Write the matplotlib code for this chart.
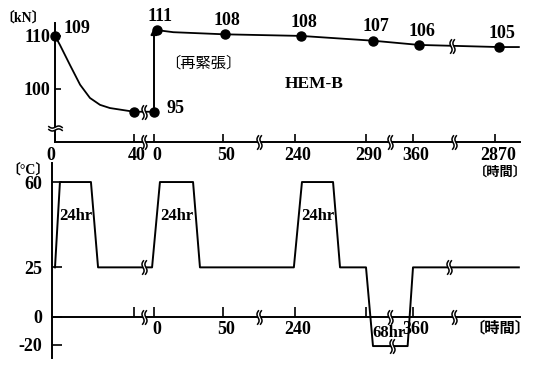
import numpy as np
import matplotlib.pyplot as plt
from matplotlib.path import Path
from matplotlib.markers import MarkerStyle
from matplotlib.transforms import Affine2D, ScaledTranslation

plt.rcParams['font.family'] = ['Liberation Serif', 'Noto Sans CJK JP']
plt.rcParams['font.weight'] = 'bold'

# time axis (hours) - two phases: initial tension, then re-tension
p1_ticks = [0, 40]
p2_ticks = [0, 50, 240, 290, 360, 2870]
# where those ticks sit along the broken axis
p1_pos = [55, 134]
p2_pos = [154, 223, 295, 366, 413, 495]

# load (kN)
load_t1 = [0, 2.5, 7.6, 12.7, 17.7, 22.8, 27.8, 40]
load_v1 = [110, 108.3, 104.5, 100.8, 98.3, 97.0, 96.4, 95.7]
load_t2 = [2, 14, 54, 244, 300, 545, 2990, 3600]
load_v2 = [111.1, 110.7, 110.3, 110.0, 109.1, 108.3, 107.9, 107.9]
retension_t = 0
retension_from = 95.7
retension_to = 111.5

dot_t1 = [0, 40]
dot_v1 = [110, 95.7]
dot_t2 = [0, 2, 54, 244, 300, 545, 2990]
dot_v2 = [95.7, 111.1, 110.3, 110.0, 109.1, 108.3, 107.9]
dot_lab2 = ['95', '111', '108', '108', '107', '106', '105']

# temperature (deg C)
temp_t1 = [0, 2.5, 18.2, 21.8]
temp_v1 = [25, 60, 60, 25]
temp_t2 = [-1.4, 4.3, 28.3, 33.3, 237, 244.9, 266.8, 271.7, 290, 300.4, 352, 360, 3600]
temp_v2 = [25, 60, 60, 25, 25, 60, 60, 25, 25, -21, -21, 25, 25]
temp_ticks = [-20, 0, 25, 60]
temp_tick_h = [27, 55, 104, 189]  # schematic (non-linear) vertical placement


def to_u(t, ticks, pos):
    t = np.atleast_1d(np.asarray(t, float))
    u = np.interp(t, ticks, pos)
    lo, hi = t < ticks[0], t > ticks[-1]
    u[lo] = pos[0] + (t[lo] - ticks[0]) * (pos[1] - pos[0]) / (ticks[1] - ticks[0])
    u[hi] = pos[-1] + (t[hi] - ticks[-1]) * (pos[-1] - pos[-2]) / (ticks[-1] - ticks[-2])
    return u


def extend(xs, ys):
    xs, ys = list(xs), list(ys)
    s0 = (ys[1] - ys[0]) / (xs[1] - xs[0])
    s1 = (ys[-1] - ys[-2]) / (xs[-1] - xs[-2])
    return ([xs[0] - 1000] + xs + [xs[-1] + 1000],
            [ys[0] - 1000 * s0] + ys + [ys[-1] + 1000 * s1])


tx, th = extend(temp_ticks, temp_tick_h)
t_fwd = lambda v: np.interp(v, tx, th)
t_inv = lambda h: np.interp(h, th, tx)

# break mark marker  ("ʃʃ")
yy = np.linspace(-1, 1, 25)
c1 = np.column_stack([-0.2 - 0.2 * np.sin(np.pi * yy) + 0.12 * yy, yy])
c2 = np.column_stack([0.2 - 0.2 * np.sin(np.pi * yy) + 0.12 * yy, yy])
brk_line = Path(np.vstack([c1, c2]),
                [Path.MOVETO] + [Path.LINETO] * 24 + [Path.MOVETO] + [Path.LINETO] * 24)
brk_fill = Path(np.vstack([c1, c2[::-1], c1[:1]]), closed=True)


def brk(ax, u, v, rot=0):
    tr = Affine2D().rotate_deg(rot)
    ax.plot(u, v, ls='none', marker=MarkerStyle(brk_fill, transform=tr), ms=10.5,
            mfc='white', mew=0, zorder=5, clip_on=False)
    ax.plot(u, v, ls='none', marker=MarkerStyle(brk_line, transform=tr), ms=10.5,
            mfc='none', mec='black', mew=1.1, zorder=6, clip_on=False)


fig = plt.figure(figsize=(5.38, 3.71), dpi=100)

# ---------- top: load ----------
ax1 = fig.add_axes([0, 0.6173, 1, 0.3288])
ax1.set_xlim(0, 538)
ax1.set_ylim(90.0, 113.0)
for s in ['top', 'right']:
    ax1.spines[s].set_visible(False)
ax1.spines['left'].set_position(('data', 55))
ax1.spines['left'].set_bounds(90.0, 112.4)
ax1.spines['bottom'].set_bounds(55, 520)
for s in ['left', 'bottom']:
    ax1.spines[s].set_linewidth(1.4)

u1 = to_u(load_t1, p1_ticks, p1_pos)
u_re = to_u(retension_t, p2_ticks, p2_pos)[0]
ax1.plot(np.append(u1, u_re), load_v1 + [retension_from], color='black', lw=1.3)
ax1.annotate('', xy=(u_re, retension_to), xytext=(u_re, retension_from),
             arrowprops=dict(arrowstyle='-|>', color='black', lw=1.4,
                             mutation_scale=9, shrinkA=0, shrinkB=0))
ax1.plot(to_u(load_t2, p2_ticks, p2_pos), load_v2, color='black', lw=1.3)

ax1.plot(to_u(dot_t1, p1_ticks, p1_pos), dot_v1, 'o', color='black', ms=6.5, clip_on=False)
ud2 = to_u(dot_t2, p2_ticks, p2_pos)
ax1.plot(ud2, dot_v2, 'o', color='black', ms=6.5, clip_on=False, zorder=4)
ax1.annotate('109', (to_u(0, p1_ticks, p1_pos)[0], 110), xytext=(6, 5),
             textcoords='offset points', ha='left', va='center', fontsize=13)
for u, v, lab in zip(ud2, dot_v2, dot_lab2):
    if lab == '95':
        off, ha = (9, 2), 'left'
    else:
        off, ha = (2, 10), 'center'
    ax1.annotate(lab, (u, v), xytext=off, textcoords='offset points',
                 ha=ha, va='center', fontsize=13, annotation_clip=False)

ax1.text(203, 104.8, '〔再緊張〕', ha='center', va='center', fontsize=11,
         family=['Noto Sans CJK JP'], fontweight='normal')
ax1.text(314, 101.0, 'HEM-B', ha='center', va='center', fontsize=12.5)
ax1.text(23, 113.4, '〔kN〕', ha='center', va='center', fontsize=10,
         family=['Liberation Serif', 'Noto Sans CJK JP'], clip_on=False)

top_lbl = ['0', '40', '0', '50', '240', '290', '360', '2870']
ax1.set_xticks(p1_pos + p2_pos, top_lbl)
ax1.set_yticks([100, 110], ['100', '110'])
ax1.tick_params(axis='x', direction='in', length=6, width=1.2, pad=3.5, labelsize=13)
ax1.tick_params(axis='y', direction='in', length=4, width=1.2, pad=3.5, labelsize=13)
tl = ax1.get_xticklabels()
tl[0].set_transform(tl[0].get_transform() + ScaledTranslation(-0.04, 0, fig.dpi_scale_trans))
for lb in tl[1:]:
    lb.set_transform(lb.get_transform() + ScaledTranslation(0.03, 0, fig.dpi_scale_trans))

gaps = [(p1_pos[1] + p2_pos[0]) / 2, (p2_pos[1] + p2_pos[2]) / 2,
        (p2_pos[3] + p2_pos[4]) / 2, (p2_pos[4] + p2_pos[5]) / 2]
brk(ax1, gaps, [90.0] * 4)
brk(ax1, [55], [92.6], rot=90)
brk(ax1, [gaps[0]], [95.7])
brk(ax1, [gaps[3] - 2], [108.1])
ax1.text(500, 84.4, '〔時間〕', ha='center', va='center', fontsize=9.5,
         family=['Noto Sans CJK JP'], clip_on=False, zorder=10)

# ---------- bottom: temperature ----------
ax2 = fig.add_axes([0, 0.035, 1, 0.5256])
ax2.patch.set_visible(False)
ax2.set_yscale('function', functions=(t_fwd, t_inv))
ax2.set_xlim(0, 538)
ax2.set_ylim(-29.5, 67.8)
for s in ['top', 'right']:
    ax2.spines[s].set_visible(False)
ax2.spines['left'].set_position(('data', 52))
ax2.spines['bottom'].set_position(('data', 0))
ax2.spines['bottom'].set_bounds(52, 520)
for s in ['left', 'bottom']:
    ax2.spines[s].set_linewidth(1.4)

ut = np.concatenate([to_u(temp_t1, p1_ticks, p1_pos), to_u(temp_t2, p2_ticks, p2_pos)])
ax2.plot(ut, temp_v1 + temp_v2, color='black', lw=1.4)

ax2.set_yticks(temp_ticks, [str(v) for v in temp_ticks])
bot_pos = [p1_pos[1]] + p2_pos[:5]
bot_lbl = ['', '0', '50', '240', '', '360']
ax2.set_xticks(bot_pos, bot_lbl)
ax2.tick_params(axis='x', direction='in', length=7, width=1.2, pad=3, labelsize=13)
ax2.tick_params(axis='y', direction='in', length=7, width=1.2, pad=7, labelsize=13)
for lb in ax2.get_xticklabels():
    lb.set_transform(lb.get_transform() + ScaledTranslation(0.03, 0, fig.dpi_scale_trans))

for a, b in [(temp_t1[1], temp_t1[2]), (temp_t2[1], temp_t2[2]), (temp_t2[5], temp_t2[6])]:
    um = to_u([(a + b) / 2], p1_ticks if a == temp_t1[1] else p2_ticks,
              p1_pos if a == temp_t1[1] else p2_pos)[0]
    ax2.text(um, 46, '24hr', ha='center', va='center', fontsize=12)
um = to_u([(temp_t2[9] + temp_t2[10]) / 2], p2_ticks, p2_pos)[0]
ax2.text(um - 1, -12, '68hr', ha='center', va='center', fontsize=12)

brk(ax2, gaps, [0] * 4)
brk(ax2, [gaps[0], gaps[3] - 5], [25, 25])
brk(ax2, [gaps[2] + 2], [-21])
ax2.text(28, 64.8, '〔°C〕', ha='center', va='center', fontsize=10,
         family=['Liberation Serif', 'Noto Sans CJK JP'], clip_on=False)
ax2.text(500, -8, '〔時間〕', ha='center', va='center', fontsize=11,
         family=['Noto Sans CJK JP'], clip_on=False)

fig.savefig('out.png', dpi=100)
